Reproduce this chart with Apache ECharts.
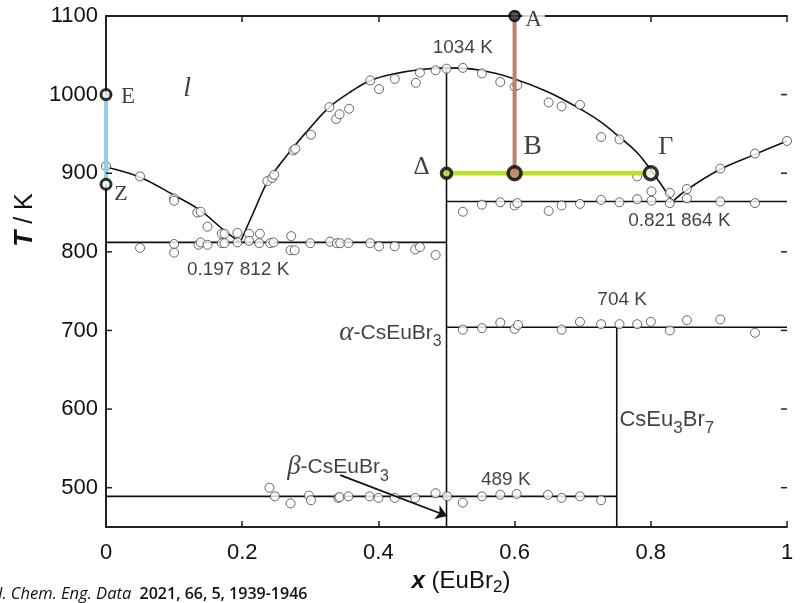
<!DOCTYPE html>
<html><head><meta charset="utf-8">
<script src="https://cdn.jsdelivr.net/npm/echarts@6/dist/echarts.min.js"></script>
<style>html,body{margin:0;padding:0;background:#fff}#c{width:803px;height:603px}</style>
</head><body><div id="c"></div>
<script>
// ---- axis ticks ----
const xTicks = [0, 0.2, 0.4, 0.6, 0.8, 1];
const yTicks = [500, 600, 700, 800, 900, 1000, 1100];

// ---- phase boundary lines (x, T/K) ----
const liquidusLeft = [[0,908],[0.05,895],[0.1,872],[0.138,853],[0.1725,828],[0.197,812]];
const liquidusMiddle = [[0.197,812],[0.217,851],[0.237,889],[0.256,912],[0.278,936],[0.30,958],[0.328,984],[0.36,1004],[0.388,1018],[0.42,1026],[0.462,1032],[0.5,1034],[0.55,1031],[0.6,1020],[0.65,1003],[0.7,980],[0.727,965],[0.754,946],[0.78,926],[0.802,902],[0.832,864]];
const liquidusRight = [[0.832,864],[0.853,879],[0.902,905],[0.953,924],[1,941]];
const eutectic812 = [[0,812],[0.5,812]];
const eutectic864 = [[0.5,864],[1,864]];
const transition704 = [[0.5,704],[1,704]];
const transition489 = [[0,489],[0.75,489]];
const compoundCsEuBr3 = [[0.5,450],[0.5,1034]];
const compoundCsEu3Br7 = [[0.75,450],[0.75,704]];

// ---- experimental points ----
const expLiquidus = [[0,909],[0.05,896],[0.1,868],[0.1,865],[0.134,850],[0.139,851],[0.149,832],[0.17,823],[0.174,823],[0.193,824],[0.21,823],[0.226,823],[0.272,820],
 [0.237,890],[0.244,894],[0.247,898],[0.275,929],[0.278,931],[0.301,949],[0.328,984],[0.338,969],[0.343,975],[0.357,982],[0.388,1018],[0.401,1007],[0.424,1020],[0.455,1015],[0.461,1028],[0.484,1031],[0.5,1033],[0.524,1034],[0.552,1027],[0.579,1016],[0.6,1010],[0.604,1012],[0.65,990],[0.669,985],[0.696,987],[0.727,946],[0.754,943],[0.78,896],[0.801,877],[0.828,875],[0.853,880],[0.902,906],[0.953,925],[1,941]];
const exp812 = [[0.05,805],[0.1,810],[0.1,799],[0.136,809],[0.139,812],[0.149,809],[0.17,811],[0.174,811],[0.193,812],[0.21,814],[0.225,811],[0.241,811],[0.246,812],[0.271,802],[0.277,802],[0.30,811],[0.329,813],[0.339,811],[0.344,811],[0.356,811],[0.388,811],[0.401,807],[0.424,807],[0.454,803],[0.461,806],[0.484,796]];
const exp864 = [[0.524,851],[0.552,860],[0.579,863],[0.6,859],[0.604,862],[0.65,852],[0.669,859],[0.696,861],[0.727,866],[0.754,863],[0.78,867],[0.801,865],[0.828,862],[0.853,868],[0.902,864],[0.953,862]];
const exp704 = [[0.524,701],[0.552,703],[0.579,710],[0.6,702],[0.605,707],[0.669,701],[0.696,711],[0.727,708],[0.754,708],[0.78,708],[0.8,711],[0.828,700],[0.853,713],[0.902,714],[0.953,697]];
const exp489 = [[0.24,500],[0.248,489],[0.271,480],[0.298,490],[0.301,484],[0.341,487],[0.343,488],[0.356,489],[0.387,489],[0.4,487],[0.424,487],[0.454,487],[0.484,493],[0.501,489],[0.524,481],[0.552,489],[0.579,491],[0.603,492],[0.649,491],[0.669,487],[0.696,489],[0.727,484]];

// ---- highlighted path points ----
const pointE = [0, 1000];
const pointZ = [0, 886];
const pointA = [0.6, 1100];
const pointB = [0.6, 900];
const pointGamma = [0.8, 900];
const pointDelta = [0.5, 900];

// ---- arrow (beta-CsEuBr3 label -> compound line) ----
const arrowBeta = [[0.344, 516], [0.501, 464]];

// ---- text annotations [x, T, text] ----
const tempLabels = [[0.524,1059,'1034 K'],[0.194,777,'0.197 812 K'],[0.842,840,'0.821 864 K'],[0.758,739,'704 K'],[0.587,510,'489 K']];
const alphaLabel = [[0.493, 697, '{g|α}{n|-CsEuBr}{s|3}']];
const betaLabel = [[0.266, 526, '{g|β}{n|-CsEuBr}{s|3}']];
const cs3Label = [[0.754, 586, '{n|CsEu}{s|3}{n|Br}{s|7}']];
const liquidLabel = [[0.119, 1008, '{l|l}']];

const chart = echarts.init(document.getElementById('c'), null, {renderer:'canvas'});
const SANS = 'Liberation Sans';
const SERIF = 'Liberation Serif';

function bLine(data, smooth) {
  return {type:'line', data, symbol:'none', smooth: smooth ? 0.35 : false, clip:false, silent:true,
    lineStyle:{color:'#111', width:1.6}, z:2};
}
function pts(data) {
  return {type:'scatter', data, symbol:'circle', symbolSize:9, clip:false, silent:true,
    itemStyle:{color:'#fff', borderColor:'#444', borderWidth:1}, z:3};
}
const phaseRich = {
  g:{fontFamily:SERIF, fontStyle:'italic', fontSize:27, lineHeight:34, verticalAlign:'middle', color:'#111'},
  n:{fontFamily:SANS, fontSize:21, lineHeight:34, verticalAlign:'middle', color:'#111'},
  s:{fontFamily:SANS, fontSize:16, lineHeight:14, verticalAlign:'bottom', color:'#111'},
  l:{fontFamily:SERIF, fontStyle:'italic', fontSize:28, color:'#111'}
};
function textSeries(data, labelOpts) {
  return {type:'scatter', data, symbolSize:1, clip:false, silent:true, itemStyle:{color:'rgba(0,0,0,0)'}, z:10,
    label:Object.assign({show:true, position:'inside', formatter:p=>p.data[2], color:'#111', verticalAlign:'middle'}, labelOpts)};
}
const markLbl = (t, off, extra) => Object.assign({show:true, position:'inside', formatter:t, offset:off,
  fontFamily:SERIF, fontSize:24, color:'#111'}, extra || {});
const tickStyle = {show:true, inside:true, length:6, lineStyle:{color:'#222', width:1.5}};
const yLabelFmt = v => (yTicks.indexOf(v) >= 0 ? String(v) : '');
const xLabelFmt = v => (xTicks.indexOf(v) >= 0 ? String(v) : '');

// inward ticks on the left and right frame, placed through the axis scale
const yTickSeries = {
  type:'custom', silent:true, z:6, clip:false,
  data: yTicks.map(v => [0, v]),
  encode:{x:0, y:1},
  renderItem: (params, api) => {
    const v = api.value(1);
    const pl = api.coord([0, v]);
    const pr = api.coord([1, v]);
    const st = {stroke:'#222', lineWidth:1.5};
    return {type:'group', children:[
      {type:'line', shape:{x1:pl[0], y1:pl[1], x2:pl[0] + 6, y2:pl[1]}, style:st},
      {type:'line', shape:{x1:pr[0] - 6, y1:pr[1], x2:pr[0], y2:pr[1]}, style:st}
    ]};
  }
};

const option = {
  animation:false,
  backgroundColor:'#fff',
  grid:{left:106, right:16, top:16, bottom:76},
  xAxis:[
    {type:'value', min:0, max:1, interval:0.2, position:'bottom',
     axisLine:{lineStyle:{color:'#222', width:2}},
     axisTick:tickStyle,
     axisLabel:{margin:15, fontFamily:SANS, fontSize:22, color:'#111', formatter:xLabelFmt},
     splitLine:{show:false}},
    {type:'value', min:0, max:1, interval:0.2, position:'top',
     axisLine:{show:true, lineStyle:{color:'#222', width:2}},
     axisTick:tickStyle,
     axisLabel:{show:false}, splitLine:{show:false}}
  ],
  yAxis:[
    {type:'value', min:450, max:1100, position:'left',
     axisLine:{show:true, lineStyle:{color:'#222', width:2}},
     axisTick:{show:false},
     axisLabel:{showMinLabel:false, margin:8, fontFamily:SANS, fontSize:22, color:'#111', formatter:yLabelFmt},
     splitLine:{show:false}},
    {type:'value', min:450, max:1100, position:'right',
     axisLine:{show:true, lineStyle:{color:'#222', width:2}},
     axisTick:{show:false},
     axisLabel:{show:false}, splitLine:{show:false}}
  ],
  series:[
    yTickSeries,
    bLine(liquidusLeft, true),
    bLine(liquidusMiddle, true),
    bLine(liquidusRight, true),
    bLine(eutectic812), bLine(eutectic864), bLine(transition704), bLine(transition489),
    bLine(compoundCsEuBr3), bLine(compoundCsEu3Br7),
    {type:'lines', coordinateSystem:'cartesian2d', silent:true, z:4,
     symbol:['none','arrow'], symbolSize:[0,11],
     lineStyle:{color:'#111', width:1.8, opacity:1},
     data:[{coords:arrowBeta}]},
    pts(expLiquidus), pts(exp812), pts(exp864), pts(exp704), pts(exp489),
    {type:'line', data:[pointE, pointZ], symbol:'none', clip:false, silent:true, lineStyle:{color:'#8fd0e8', width:4}, z:5},
    {type:'line', data:[pointA, pointB], symbol:'none', clip:false, silent:true, lineStyle:{color:'#b9806a', width:4}, z:5},
    {type:'line', data:[pointDelta, pointGamma], symbol:'none', clip:false, silent:true, lineStyle:{color:'#b4e41e', width:4.5}, z:5},
    {type:'scatter', symbol:'circle', clip:false, silent:true, z:8,
     data:[
      {value:pointE, symbolSize:10, itemStyle:{color:'#fff', borderColor:'#000', borderWidth:3}, label:markLbl('E',[22,2],{fontSize:23})},
      {value:pointZ, symbolSize:10, itemStyle:{color:'#fff', borderColor:'#000', borderWidth:3}, label:markLbl('Z',[15,10],{fontSize:22})},
      {value:pointA, symbolSize:10, itemStyle:{color:'#333', borderColor:'#000', borderWidth:2.5}, label:markLbl('A',[19,4],{fontSize:23, backgroundColor:'#fff', padding:[2,3]})},
      {value:pointB, symbolSize:13, itemStyle:{color:'#b9806a', borderColor:'#000', borderWidth:3.5}, label:markLbl('B',[18,-27],{fontSize:28})},
      {value:pointGamma, symbolSize:13, itemStyle:{color:'#f4f9e4', borderColor:'#000', borderWidth:3.5}, label:markLbl('Γ',[15,-26],{fontSize:26})},
      {value:pointDelta, symbolSize:10, itemStyle:{color:'#c9d93a', borderColor:'#000', borderWidth:3.5}, label:markLbl('Δ',[-25,-6],{fontSize:25})}
     ]},
    textSeries(tempLabels, {fontFamily:SANS, fontSize:19, align:'center'}),
    textSeries(alphaLabel, {rich:phaseRich, align:'right'}),
    textSeries(betaLabel, {rich:phaseRich, align:'left'}),
    textSeries(cs3Label, {rich:Object.assign({}, phaseRich, {n:Object.assign({}, phaseRich.n, {fontSize:22}), s:Object.assign({}, phaseRich.s, {fontSize:17})}), align:'left'}),
    textSeries(liquidLabel, {rich:phaseRich, align:'center'})
  ],
  graphic:[
    {type:'text', x:25, y:220, rotation:Math.PI/2, silent:true,
     style:{text:'{b|T}{n| / K}', align:'center', verticalAlign:'middle', fill:'#111',
       rich:{b:{fontFamily:SANS, fontWeight:'bold', fontStyle:'italic', fontSize:26, fill:'#111'},
             n:{fontFamily:SANS, fontSize:25, fill:'#111'}}}},
    {type:'text', x:461, y:581, silent:true,
     style:{text:'{b|x}{n| (EuBr}{s|2}{n|)}', align:'center', verticalAlign:'middle', fill:'#111',
       rich:{b:{fontFamily:SANS, fontWeight:'bold', fontStyle:'italic', fontSize:24, lineHeight:30, verticalAlign:'middle', fill:'#111'},
             n:{fontFamily:SANS, fontSize:24, lineHeight:30, verticalAlign:'middle', fill:'#111'},
             s:{fontFamily:SANS, fontSize:17, lineHeight:16, verticalAlign:'bottom', fill:'#111'}}}},
    {type:'text', x:-2, y:594, silent:true,
     style:{text:'{i|J. Chem. Eng. Data}{n|  2021, 66, 5, 1939-1946}', align:'left', verticalAlign:'middle', fill:'#111',
       rich:{i:{fontFamily:'Open Sans', fontStyle:'italic', fontWeight:500, fontSize:16.5, fill:'#111'},
             n:{fontFamily:'Open Sans', fontWeight:600, fontSize:16, fill:'#111'}}}}
  ]
};
chart.setOption(option);
</script>
</body></html>
